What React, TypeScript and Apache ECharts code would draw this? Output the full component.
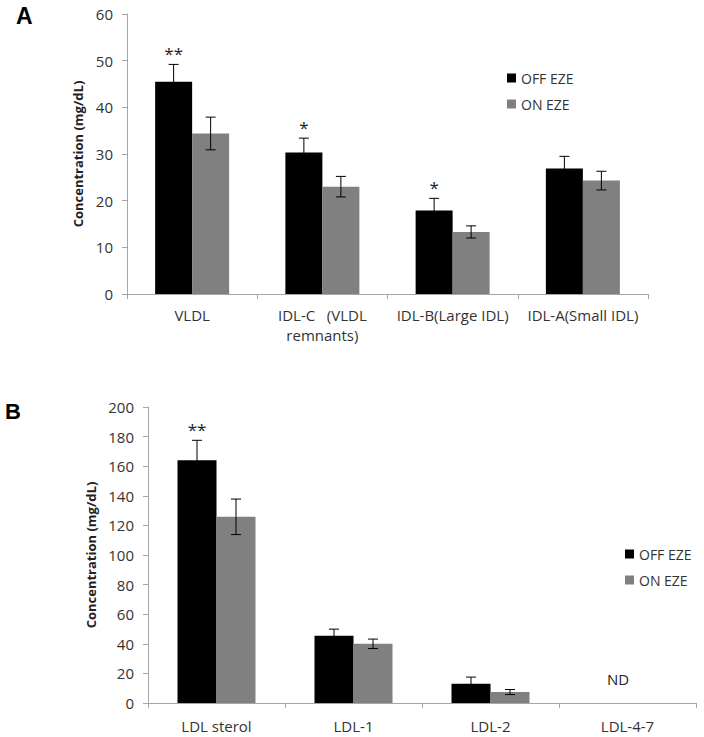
import { useEffect, useRef } from "react";
import * as echarts from "echarts";

// panel A: VLDL / IDL subfractions
const categoriesA = ["VLDL", "IDL-C   (VLDL\nremnants)", "IDL-B(Large IDL)", "IDL-A(Small IDL)"];
const offA = [45.5, 30.3, 17.9, 26.9];
const offErrA = [3.7, 3.1, 2.6, 2.6];
const onA = [34.4, 23.0, 13.3, 24.3];
const onErrA = [3.5, 2.2, 1.3, 2.0];
const starsA = ["**", "*", "*", ""];

// panel B: LDL subfractions
const categoriesB = ["LDL sterol", "LDL-1", "LDL-2", "LDL-4-7"];
const offB = [164, 45.4, 13.0, null];
const offErrB = [13.5, 4.5, 4.5, null];
const onB = [125.8, 40.0, 7.4, null];
const onErrB = [12, 3.2, 1.7, null];
const starsB = ["**", "", "", ""];
const ndIndex = 3;
const ndLevel = 16;

const FONT = "Open Sans";
const AXIS = "#a6a6a6";
const TEXT = "#333";

const errorSeries = (values, errs, side, barW, idx, stars) => ({
  type: "custom",
  xAxisIndex: idx,
  yAxisIndex: idx,
  z: 5,
  silent: true,
  data: values.map((v, i) => (v == null ? null : [i, v, errs[i]])).filter(Boolean),
  renderItem: (params, api) => {
    const i = api.value(0);
    const v = api.value(1);
    const e = api.value(2);
    const top = api.coord([i, v + e]);
    const bot = api.coord([i, v - e]);
    const x = top[0] + (side * barW) / 2;
    const ls = { stroke: "#000", lineWidth: 1 };
    const children: any[] = [
      { type: "line", shape: { x1: x, y1: top[1], x2: x, y2: bot[1] }, style: ls },
      { type: "line", shape: { x1: x - 5, y1: top[1], x2: x + 5, y2: top[1] }, style: ls },
      { type: "line", shape: { x1: x - 5, y1: bot[1], x2: x + 5, y2: bot[1] }, style: ls },
    ];
    const s = stars && stars[i];
    if (s) {
      children.push({
        type: "text",
        x,
        y: top[1] - 2,
        style: { text: s, fontSize: 17, fontFamily: FONT, fill: "#222", align: "center", verticalAlign: "bottom" },
      });
    }
    return { type: "group", children };
  },
});

const App = () => {
  const chartRef = useRef(null);

  useEffect(() => {
    if (!chartRef.current) return;
    const chart = echarts.init(chartRef.current, null, { renderer: "svg" });

    const xAxisBase = {
      type: "category",
      axisLine: { lineStyle: { color: AXIS } },
      axisTick: { show: true, length: 5, lineStyle: { color: AXIS } },
      axisLabel: { interval: 0, color: TEXT, fontSize: 15, fontFamily: FONT, lineHeight: 20, margin: 11 },
    };
    const yAxisBase = {
      type: "value",
      min: 0,
      name: "Concentration (mg/dL)",
      nameLocation: "middle",
      nameTextStyle: { fontSize: 13, fontWeight: "bold", fontFamily: FONT, color: "#222" },
      axisLine: { show: true, lineStyle: { color: AXIS } },
      axisTick: { show: true, length: 5, lineStyle: { color: AXIS } },
      axisLabel: { color: TEXT, fontSize: 15, fontFamily: FONT, margin: 14 },
      splitLine: { show: false },
    };
    const legendBase = {
      orient: "vertical",
      icon: "rect",
      itemWidth: 9,
      itemHeight: 9,
      itemGap: 12,
      textStyle: { fontSize: 14, fontFamily: FONT, color: TEXT },
      data: ["OFF EZE", "ON EZE"],
      selectedMode: false,
    };

    const option = {
      animation: false,
      backgroundColor: "#fff",
      textStyle: { fontFamily: FONT },
      grid: [
        { left: 127, top: 14, width: 521, height: 280 },
        { left: 148, top: 407, width: 548, height: 296 },
      ],
      xAxis: [
        { ...xAxisBase, gridIndex: 0, data: categoriesA },
        { ...xAxisBase, gridIndex: 1, data: categoriesB, axisLabel: { ...xAxisBase.axisLabel, margin: 13 } },
      ],
      yAxis: [
        { ...yAxisBase, gridIndex: 0, max: 60, interval: 10, nameGap: 40 },
        { ...yAxisBase, gridIndex: 1, max: 200, interval: 20, nameGap: 51 },
      ],
      legend: [
        { ...legendBase, left: 502, top: 66 },
        { ...legendBase, left: 620, top: 542 },
      ],
      graphic: [
        { type: "text", left: 16, top: 4, style: { text: "A", fontSize: 23, fontWeight: "bold", fontFamily: "Liberation Sans", fill: "#000" } },
        { type: "text", left: 5, top: 400, style: { text: "B", fontSize: 22, fontWeight: "bold", fontFamily: "Liberation Sans", fill: "#000" } },
      ],
      series: [
        { name: "OFF EZE", type: "bar", xAxisIndex: 0, yAxisIndex: 0, data: offA, barWidth: 37, barGap: "0%", itemStyle: { color: "#000" } },
        { name: "ON EZE", type: "bar", xAxisIndex: 0, yAxisIndex: 0, data: onA, barWidth: 37, barGap: "0%", itemStyle: { color: "#808080" } },
        errorSeries(offA, offErrA, -1, 37, 0, starsA),
        errorSeries(onA, onErrA, 1, 37, 0, null),
        {
          name: "OFF EZE",
          type: "bar",
          xAxisIndex: 1,
          yAxisIndex: 1,
          data: offB,
          barWidth: 39,
          barGap: "0%",
          itemStyle: { color: "#000" },
          markPoint: {
            symbol: "circle",
            symbolSize: 0,
            silent: true,
            label: { show: true, formatter: "ND", color: "#222", fontSize: 15, fontFamily: FONT, offset: [10, 0] },
            data: [{ coord: [ndIndex, ndLevel] }],
          },
        },
        { name: "ON EZE", type: "bar", xAxisIndex: 1, yAxisIndex: 1, data: onB, barWidth: 39, barGap: "0%", itemStyle: { color: "#808080" } },
        errorSeries(offB, offErrB, -1, 39, 1, starsB),
        errorSeries(onB, onErrB, 1, 39, 1, null),
      ],
    };

    chart.setOption(option);
    return () => {
      chart.dispose();
    };
  }, []);

  return <div ref={chartRef} style={{ position: "absolute", left: 0, top: 0, width: 704, height: 737 }} />;
};

export default App;
